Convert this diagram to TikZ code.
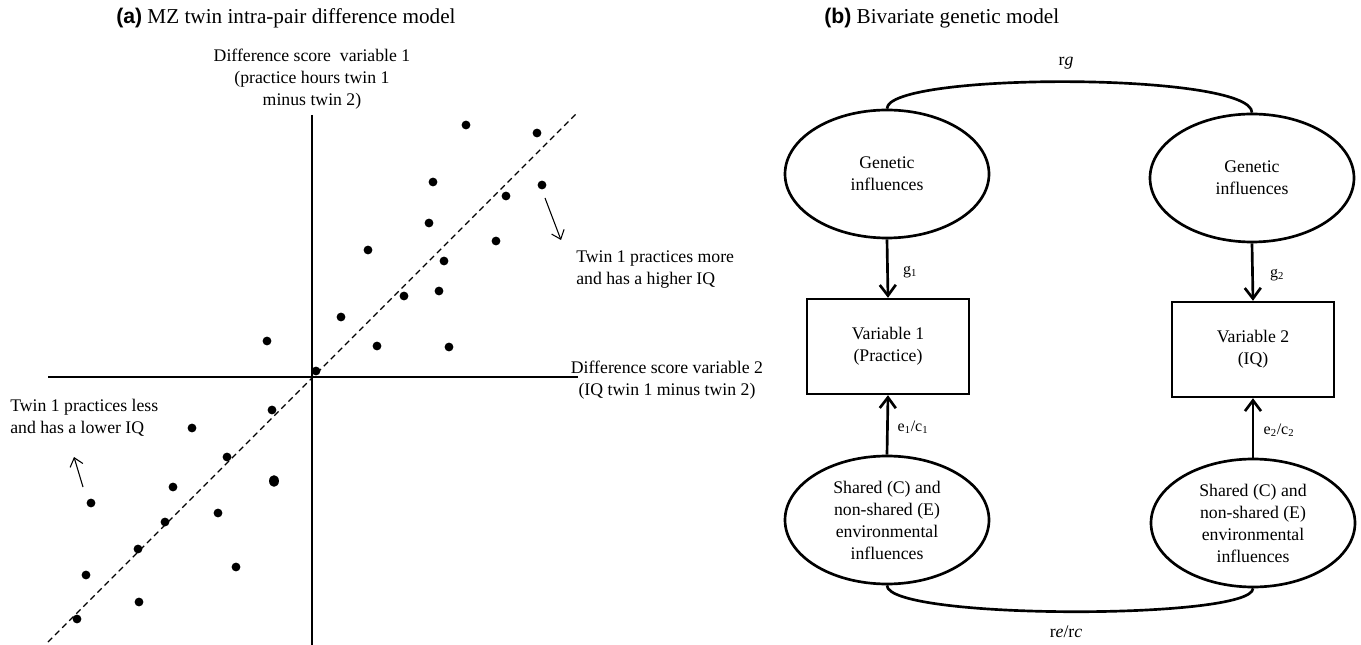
\documentclass[tikz,border=0pt]{standalone}
\usepackage{fontspec}
\setmainfont{Liberation Serif}
\setsansfont{Liberation Sans}
\usetikzlibrary{arrows.meta,shapes.geometric}

\tikzset{
    txt/.style={font=\fontsize{13.3}{16.5}\selectfont, inner sep=0pt, align=center},
    lbl/.style={font=\fontsize{12}{14}\selectfont, inner sep=0pt},
    ttl/.style={font=\fontsize{15.9}{18}\selectfont, inner sep=0pt, anchor=west},
    latent/.style={ellipse, draw, line width=2pt, minimum width=153pt, minimum height=96pt, txt},
    observed/.style={rectangle, draw, line width=1.8pt, minimum width=121.5pt, minimum height=71.25pt, txt},
    load/.style={line width=2pt, -{Straight Barb[length=8pt,width=12pt]}},
    corr/.style={line width=2pt},
    pointer/.style={line width=0.8pt, -{Straight Barb[length=6pt,width=10pt]}}
}

\begin{document}
\begin{tikzpicture}[x=0.75pt, y=-0.75pt]
\useasboundingbox (0,0) rectangle (1361,645);

\node[ttl] (titleA) at (116,18) {\textbf{\sffamily (a)} MZ twin intra-pair difference model};
\node[ttl] (titleB) at (824,18) {\textbf{\sffamily (b)} Bivariate genetic model};

% (a) scatter
\draw[line width=1.1pt] (48,377) -- (578,377);
\draw[line width=1.1pt] (312,115) -- (312,645);
\draw[line width=0.8pt, dash pattern=on 4.5pt off 3pt] (48,642) -- (578,112);

\foreach \x/\y in {466/125,537/133,433/182,542/185,506/196,429/223,496/241,368/250,
    444/261,404/296,439/291,341/317,267/341,377/346,449/347,316/371,272/410,192/428,
    227/457,173/487,91/503,218/513,165/522,138/549,86/575,236/567,139/602,77/619}
{
    \fill (\x,\y) circle (3.3pt);
}
\fill (274,481) ellipse (3.7pt and 4.4pt);

\node[txt] (yaxis) at (312,79) {Difference score\ \ variable 1\\(practice hours twin 1\\minus twin 2)};
\node[txt] (xaxis) at (667,380) {Difference score variable 2\\(IQ twin 1 minus twin 2)};
\node[txt, align=left, anchor=west] (more) at (576,270) {Twin 1 practices more\\and has a higher IQ};
\node[txt, align=left, anchor=west] (less) at (10,418) {Twin 1 practices less\\and has a lower IQ};

\coordinate (moreA) at (545,198);
\coordinate (moreB) at (561,240);
\coordinate (lessA) at (83,487);
\coordinate (lessB) at (74,457);
\draw[pointer] (moreA) -- (moreB);
\draw[pointer] (lessA) -- (lessB);

% (b) model
\node[latent] (G1) at (887,174) {Genetic\\influences};
\node[latent] (G2) at (1252,178) {Genetic\\influences};
\node[observed] (V1) at (888,346.5) {Variable 1\\(Practice)};
\node[observed] (V2) at (1253,349.5) {Variable 2\\(IQ)};
\node[latent] (E1) at (887,520) {Shared (C) and\\non-shared (E)\\environmental\\influences};
\node[latent] (E2) at (1253,523) {Shared (C) and\\non-shared (E)\\environmental\\influences};

\draw[load] (G1.south) -- (V1.north);
\draw[load] (G2.south) -- (V2.north);
\draw[load] (E1.north) -- (V1.south);
\draw[load] (E2.north) -- (V2.south);

\coordinate (rgL) at (887,72);
\coordinate (rgR) at (1252,72);
\coordinate (reL) at (887,620);
\coordinate (reR) at (1253,620);
\draw[corr] (G1.north) .. controls (rgL) and (rgR) .. (G2.north);
\draw[corr] (E1.south) .. controls (reL) and (reR) .. (E2.south);

\node[txt] (rg) at (1066,63) {r\textit{g}};
\node[txt] (rerc) at (1066,632) {r\textit{e}/r\textit{c}};
\node[lbl] (g1) at (910,272) {g\textsubscript{1}};
\node[lbl] (g2) at (1277,275) {g\textsubscript{2}};
\node[lbl] (ec1) at (913,427) {e\textsubscript{1}/c\textsubscript{1}};
\node[lbl] (ec2) at (1279,430) {e\textsubscript{2}/c\textsubscript{2}};

\end{tikzpicture}
\end{document}
